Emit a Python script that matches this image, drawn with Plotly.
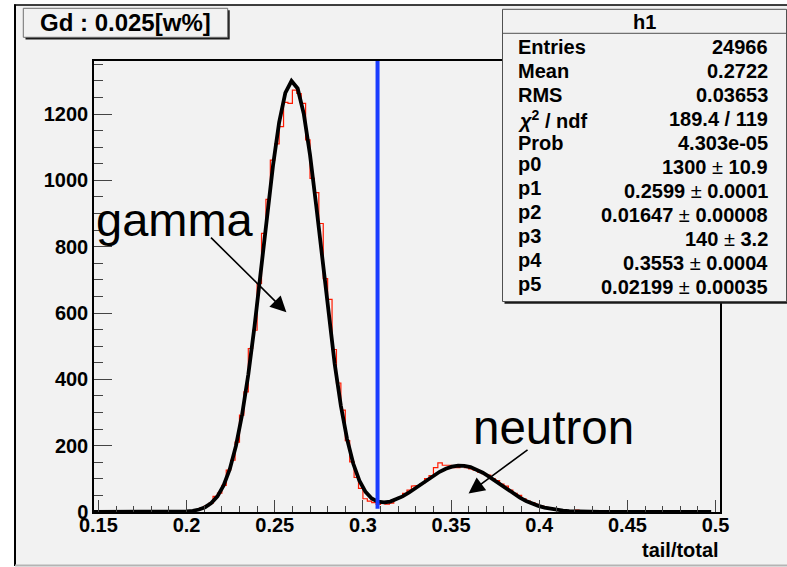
import numpy as np
import plotly.graph_objects as go

# ---------------- data ----------------
bin_width = 0.0025
first_bin_low = 0.195
counts = [1, 1, 2, 4, 7, 12, 18, 26, 47, 57,
          80, 126, 156, 211, 292, 362, 493, 548, 689, 840,
          943, 1061, 1110, 1162, 1235, 1232, 1272, 1262, 1232, 1122,
          1006, 963, 870, 704, 641, 490, 389, 307, 215, 151,
          104, 71, 40, 33, 28, 23, 27, 24, 27, 38,
          44, 56, 66, 78, 80, 86, 101, 110, 134, 148,
          141, 141, 134, 134, 138, 134, 130, 126, 120, 116,
          111, 101, 95, 84, 78, 66, 56, 50, 40, 33,
          28, 23, 18, 14, 11, 8, 6, 5, 3, 4,
          6, 2, 1, 1, 1]

# fit parameters (double gaussian) as shown in the stats box
fit_params = [1300.0, 0.2599, 0.01647, 140.0, 0.3553, 0.02199]
fit_range = [0.1475, 0.4975]
fit_npx = 101

cut_value = 0.3083          # blue vertical cut line
x_range = [0.1475, 0.5025]
y_range = [0, 1360]
x_tickvals = [0.15, 0.2, 0.25, 0.3, 0.35, 0.4, 0.45, 0.5]
x_ticktext = ["0.15", "0.2", "0.25", "0.3", "0.35", "0.4", "0.45", "0.5"]
y_tickvals = [0, 200, 400, 600, 800, 1000, 1200]
y_ticktext = ["0", "200", "400", "600", "800", "1000", "1200"]

title_text = "Gd : 0.025[w%]"
hist_name = "h1"
x_title = "tail/total"
stat_labels = ["Entries", "Mean", "RMS", "<i>χ</i><sup>2</sup> / ndf", "Prob",
               "p0", "p1", "p2", "p3", "p4", "p5"]
stat_values = ["24966", "0.2722", "0.03653", "189.4 / 119", "4.303e-05",
               ("1300", "10.9"), ("0.2599", "0.0001"), ("0.01647", "0.00008"),
               ("140", "3.2"), ("0.3553", "0.0004"), ("0.02199", "0.00035")]

gamma_label = "gamma"
neutron_label = "neutron"
gamma_arrow = dict(tail=(0.2130, 832), tip=(0.2566, 602))
neutron_arrow = dict(tail=(0.3942, 191), tip=(0.3599, 56))

# ---------------- geometry ----------------
W, H = 787, 567
L, R, T, B = 94, 67, 61, 55
PW, PH = W - L - R, H - T - B
FONT = "Liberation Sans, Arial, Helvetica, sans-serif"


def px_x(px):
    return (px - L) / PW


def px_y(py):
    return (H - B - py) / PH


# ---------------- histogram step outline ----------------
edges = [first_bin_low + i * bin_width for i in range(len(counts) + 1)]
hx, hy = [edges[0]], [0]
for i, c in enumerate(counts):
    hx += [edges[i], edges[i + 1]]
    hy += [c, c]
hx.append(edges[-1])
hy.append(0)

p0, p1, p2, p3, p4, p5 = fit_params
fx = np.linspace(fit_range[0], fit_range[1], fit_npx)
fy = p0 * np.exp(-0.5 * ((fx - p1) / p2) ** 2) + p3 * np.exp(-0.5 * ((fx - p4) / p5) ** 2)

fig = go.Figure()
fig.add_trace(go.Scatter(x=hx, y=hy, mode="lines",
                         line=dict(color="#ff1a00", width=1.2),
                         hoverinfo="skip", showlegend=False))
fig.add_trace(go.Scatter(x=fx, y=fy, mode="lines",
                         line=dict(color="black", width=3.8),
                         hoverinfo="skip", showlegend=False))

BG = "#f2f2f2"
shapes = []
# canvas
shapes.append(dict(type="rect", xref="paper", yref="paper", layer="below",
                   x0=px_x(15), x1=px_x(800), y0=px_y(565.5), y1=px_y(5),
                   fillcolor=BG, line=dict(width=0)))
shapes.append(dict(type="line", xref="paper", yref="paper", layer="above",
                   x0=px_x(15), x1=px_x(15), y0=px_y(566), y1=px_y(4.5),
                   line=dict(color="black", width=2)))
shapes.append(dict(type="line", xref="paper", yref="paper", layer="above",
                   x0=px_x(14), x1=px_x(800), y0=px_y(5), y1=px_y(5),
                   line=dict(color="black", width=1.5)))
shapes.append(dict(type="line", xref="paper", yref="paper", layer="above",
                   x0=px_x(15), x1=px_x(800), y0=px_y(565.5), y1=px_y(565.5),
                   line=dict(color="#b4b4b4", width=2)))
# blue cut line
shapes.append(dict(type="line", xref="x", yref="y", layer="above",
                   x0=cut_value, x1=cut_value, y0=10, y1=y_range[1],
                   line=dict(color="#1a3cff", width=4)))
# title box
shapes.append(dict(type="rect", xref="paper", yref="paper", layer="above",
                   x0=px_x(25.5), x1=px_x(229.7), y0=px_y(39.5), y1=px_y(10.3),
                   fillcolor="#1a1a1a", line=dict(width=0)))
shapes.append(dict(type="rect", xref="paper", yref="paper", layer="above",
                   x0=px_x(23.3), x1=px_x(227.7), y0=px_y(37.3), y1=px_y(8.3),
                   fillcolor=BG, line=dict(color="#707070", width=1)))
# stats box
shapes.append(dict(type="rect", xref="paper", yref="paper", layer="above",
                   x0=px_x(504.5), x1=px_x(789), y0=px_y(303.8), y1=px_y(11.5),
                   fillcolor="#1a1a1a", line=dict(width=0)))
shapes.append(dict(type="rect", xref="paper", yref="paper", layer="above",
                   x0=px_x(502.5), x1=px_x(786.5), y0=px_y(301.5), y1=px_y(9.3),
                   fillcolor=BG, line=dict(color="#505050", width=1)))
shapes.append(dict(type="line", xref="paper", yref="paper", layer="above",
                   x0=px_x(502.5), x1=px_x(786.5), y0=px_y(33.3), y1=px_y(33.3),
                   line=dict(color="#505050", width=1)))

annotations = []
annotations.append(dict(xref="paper", yref="paper", x=px_x(125.5), y=px_y(22.5),
                        text=title_text, showarrow=False, xanchor="center", yanchor="middle",
                        font=dict(family=FONT, size=24, color="black", weight="bold")))
annotations.append(dict(xref="paper", yref="paper", x=px_x(644), y=px_y(22),
                        text=hist_name, showarrow=False, xanchor="center", yanchor="middle",
                        font=dict(family=FONT, size=20, color="black", weight="bold")))
row_y0, row_dy = 47, 24
pm = " <span style='font-weight:normal'>±</span> "
for i, (lab, val) in enumerate(zip(stat_labels, stat_values)):
    yy = row_y0 + i * row_dy
    lab_y = yy - 3 if lab.startswith("p") else yy
    annotations.append(dict(xref="paper", yref="paper", x=px_x(516), y=px_y(lab_y),
                            text=lab, showarrow=False, xanchor="left", yanchor="middle",
                            font=dict(family=FONT, size=20, color="black", weight="bold")))
    vtxt = val if isinstance(val, str) else val[0] + pm + val[1]
    annotations.append(dict(xref="paper", yref="paper", x=px_x(769.5), y=px_y(yy),
                            text=vtxt, showarrow=False, xanchor="right", yanchor="middle",
                            font=dict(family=FONT, size=20, color="black", weight="bold")))
annotations.append(dict(xref="paper", yref="paper", x=px_x(721), y=px_y(550),
                        text=x_title, showarrow=False, xanchor="right", yanchor="middle",
                        font=dict(family=FONT, size=20, color="black", weight="bold")))
annotations.append(dict(xref="paper", yref="paper", x=px_x(94), y=px_y(219),
                        text=gamma_label, showarrow=False, xanchor="left", yanchor="middle",
                        font=dict(family=FONT, size=47, color="black")))
annotations.append(dict(xref="paper", yref="paper", x=px_x(471), y=px_y(427),
                        text=neutron_label, showarrow=False, xanchor="left", yanchor="middle",
                        font=dict(family=FONT, size=47.5, color="black")))
for arr in (gamma_arrow, neutron_arrow):
    annotations.append(dict(xref="x", yref="y", axref="x", ayref="y",
                            x=arr["tip"][0], y=arr["tip"][1],
                            ax=arr["tail"][0], ay=arr["tail"][1],
                            text="", showarrow=True, arrowhead=2, arrowsize=2.0,
                            arrowwidth=1.6, arrowcolor="black", standoff=0))

fig.update_layout(
    width=W, height=H,
    margin=dict(l=L, r=R, t=T, b=B, pad=0),
    paper_bgcolor="white", plot_bgcolor=BG,
    shapes=shapes, annotations=annotations, showlegend=False,
    font=dict(family=FONT, color="black"),
)
fig.update_xaxes(range=x_range, showgrid=False, zeroline=False,
                 showline=True, mirror=True, linecolor="black", linewidth=1.5,
                 tickmode="array", tickvals=x_tickvals, ticktext=x_ticktext,
                 ticks="inside", ticklen=12, tickwidth=1, tickcolor="#444",
                 ticklabelstandoff=-6,
                 tickfont=dict(family=FONT, size=20, color="black", weight="bold"),
                 minor=dict(ticks="inside", ticklen=6, tickwidth=1, tickcolor="#444",
                            dtick=0.01, tick0=0.15, showgrid=False))
fig.update_yaxes(range=y_range, showgrid=False, zeroline=False,
                 showline=True, mirror=True, linecolor="black", linewidth=1.5,
                 tickmode="array", tickvals=y_tickvals, ticktext=y_ticktext,
                 ticks="inside", ticklen=18, tickwidth=1, tickcolor="#444",
                 tickfont=dict(family=FONT, size=20, color="black", weight="bold"),
                 minor=dict(ticks="inside", ticklen=9, tickwidth=1, tickcolor="#444",
                            dtick=50, tick0=0, showgrid=False))

fig.write_html("out.html")
